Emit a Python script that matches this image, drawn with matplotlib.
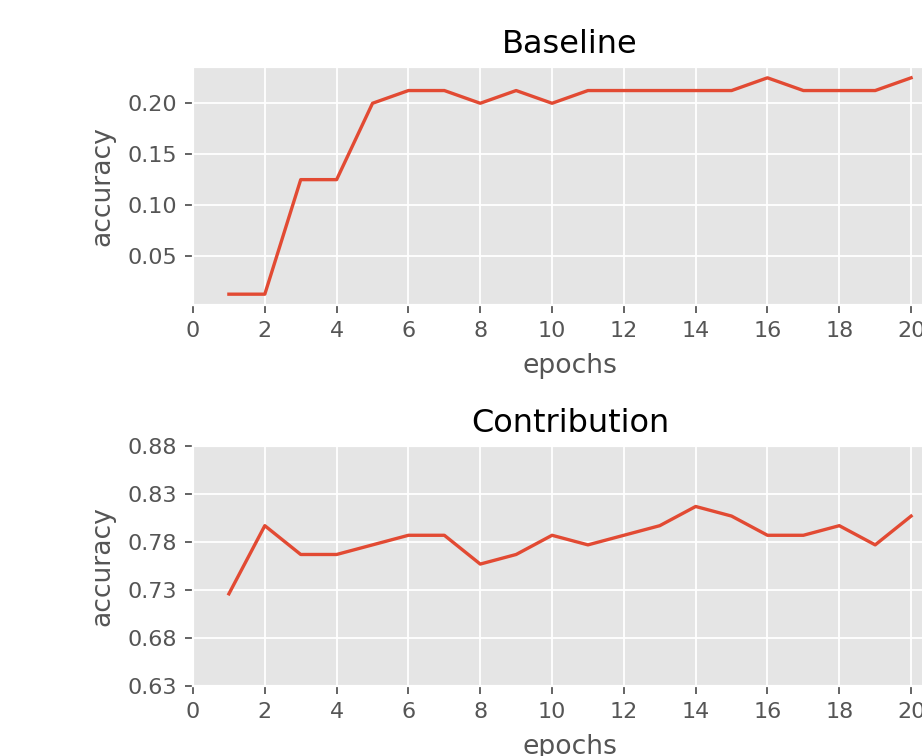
import numpy as np
import matplotlib
matplotlib.use('Agg')
import matplotlib.pyplot as plt

plt.style.use('ggplot')

epochs = list(range(1, 21))
baseline_acc = [0.0125, 0.0125, 0.125, 0.125, 0.2, 0.2125, 0.2125, 0.2, 0.2125, 0.2,
                0.2125, 0.2125, 0.2125, 0.2125, 0.2125, 0.225, 0.2125, 0.2125, 0.2125, 0.225]
contrib_acc = [0.726, 0.797, 0.767, 0.767, 0.777, 0.787, 0.787, 0.757, 0.767, 0.787,
               0.777, 0.787, 0.797, 0.817, 0.807, 0.787, 0.787, 0.797, 0.777, 0.807]
contrib_yticks = [0.63, 0.68, 0.73, 0.78, 0.83, 0.88]
xticks = list(range(0, 21, 2))

dpi = 160
fig = plt.figure(figsize=(922 / dpi, 756 / dpi), dpi=dpi)

# axes run past the right edge, like the cropped original
ax1 = fig.add_axes([193 / 922, 1 - 305 / 756, 754 / 922, 238 / 756])
ax2 = fig.add_axes([193 / 922, 1 - 686 / 756, 754 / 922, 240 / 756])

ax1.plot(epochs, baseline_acc)
ax1.set_title('Baseline', pad=6.4)
ax1.set_xlabel('epochs', labelpad=5.6)
ax1.set_ylabel('accuracy', labelpad=5.6)
ax1.set_xlim(0, 21)
ax1.set_xticks(xticks)

ax2.plot(epochs, contrib_acc)
ax2.set_title('Contribution', pad=6.4)
ax2.set_xlabel('epochs', labelpad=5.6)
ax2.set_ylabel('accuracy', labelpad=5.6)
ax2.set_xlim(0, 21)
ax2.set_xticks(xticks)
ax2.set_ylim(contrib_yticks[0], contrib_yticks[-1])
ax2.set_yticks(contrib_yticks)
ax2.set_yticklabels(['%.2f' % v for v in contrib_yticks])

fig.savefig('out.png', dpi=dpi)
